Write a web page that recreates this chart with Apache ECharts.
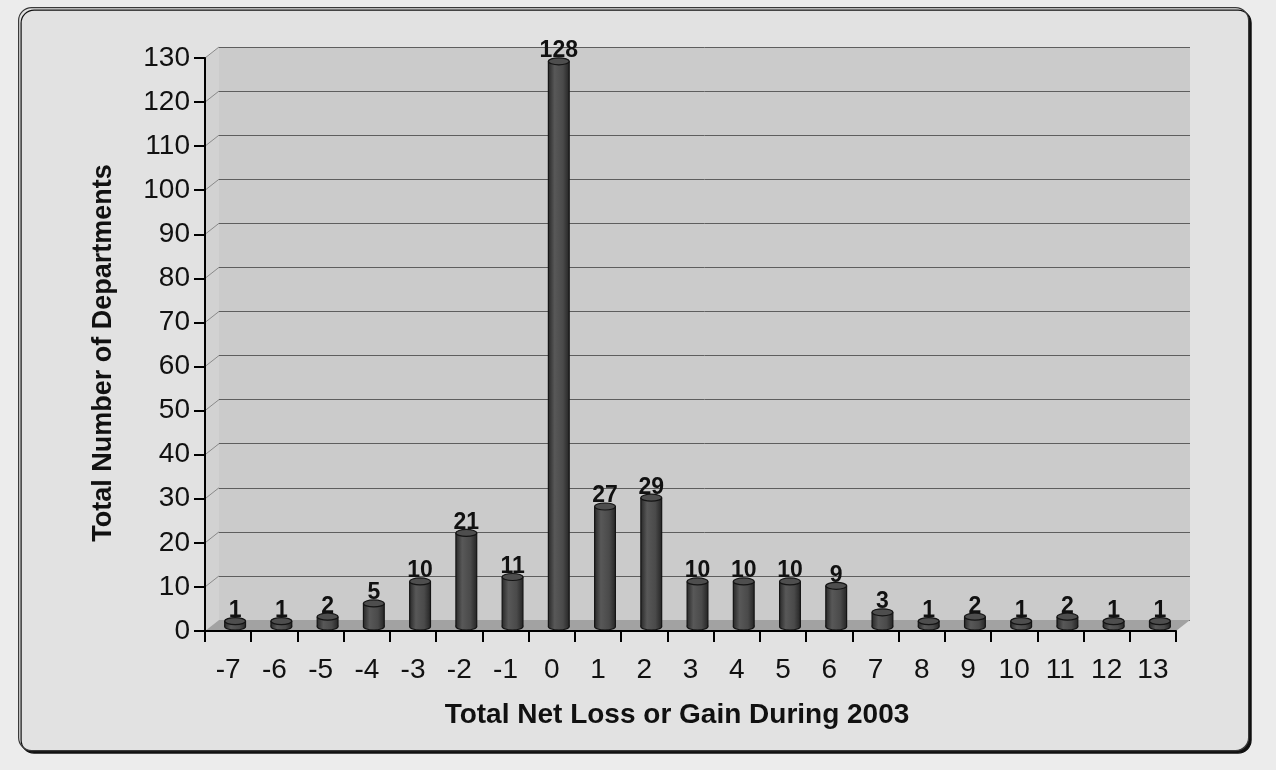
<!DOCTYPE html>
<html>
<head>
<meta charset="utf-8">
<script src="https://cdn.jsdelivr.net/npm/echarts@6/dist/echarts.min.js"></script>
<style>
  html, body { margin: 0; padding: 0; background: #ececec; }
  #chart { width: 1276px; height: 770px; }
</style>
</head>
<body>
<div id="chart"></div>
<script>
// Net change in department size during 2003, and how many departments had each change
const categories = ['-7', '-6', '-5', '-4', '-3', '-2', '-1', '0', '1', '2', '3',
                    '4', '5', '6', '7', '8', '9', '10', '11', '12', '13'];
const departments = [1, 1, 2, 5, 10, 21, 11, 128, 27, 29, 10,
                     10, 10, 9, 3, 1, 2, 1, 2, 1, 1];
const yMin = 0, yMax = 130, yStep = 10;

const xTitle = 'Total Net Loss or Gain During 2003';
const yTitle = 'Total Number of Departments';

// depth of the pseudo-3D box (back wall is shifted right/up by this much)
const DEPTH_X = 14, DEPTH_Y = 11;
const FONT = "'Liberation Sans', Arial, Helvetica, sans-serif";

const GRID = { left: 205, top: 58, width: 971, height: 573 };

// Left side wall and floor of the box, plus the gridline continuations on the side wall
function renderBox(params, api) {
  const cs = params.coordSys;
  const x = cs.x, y = cs.y, w = cs.width, h = cs.height;
  const children = [
    { type: 'polygon', shape: { points: [[x, y], [x + DEPTH_X, y - DEPTH_Y], [x + DEPTH_X, y + h - DEPTH_Y], [x, y + h]] },
      style: { fill: '#d2d2d2' } },
    { type: 'polygon', shape: { points: [[x, y + h], [x + DEPTH_X, y + h - DEPTH_Y], [x + w + DEPTH_X, y + h - DEPTH_Y], [x + w, y + h]] },
      style: { fill: '#a2a2a2' } }
  ];
  for (let v = yMin + yStep; v <= yMax; v += yStep) {
    const yy = api.coord([0, v])[1];
    children.push({ type: 'line', shape: { x1: x, y1: yy, x2: x + DEPTH_X, y2: yy - DEPTH_Y },
      style: { stroke: '#8a8a8a', lineWidth: 1 } });
  }
  return { type: 'group', children: children };
}

// One cylinder per category, standing in the middle of the box depth
function renderCylinder(params, api) {
  const i = api.value(0), v = api.value(1);
  const top = api.coord([i, v]);
  const base = api.coord([i, 0]);
  const w = api.size([1, 0])[0] * 0.45;
  const cx = top[0] + DEPTH_X / 2;
  const yt = top[1] - DEPTH_Y / 2;
  const yb = base[1] - DEPTH_Y / 2 + 1;
  const rx = w / 2, ry = 3.5;
  const bodyFill = { type: 'linear', x: 0, y: 0, x2: 1, y2: 0, colorStops: [
    { offset: 0, color: '#2a2a2a' }, { offset: 0.3, color: '#585858' },
    { offset: 0.7, color: '#4a4a4a' }, { offset: 1, color: '#262626' } ] };
  return {
    type: 'group',
    children: [
      { type: 'ellipse', shape: { cx: cx, cy: yb, rx: rx, ry: ry }, style: { fill: bodyFill, stroke: '#141414', lineWidth: 1.2 } },
      { type: 'rect', shape: { x: cx - rx, y: yt, width: w, height: Math.max(yb - yt, 0) }, style: { fill: bodyFill } },
      { type: 'line', shape: { x1: cx - rx, y1: yt, x2: cx - rx, y2: yb }, style: { stroke: '#141414', lineWidth: 1.2 } },
      { type: 'line', shape: { x1: cx + rx, y1: yt, x2: cx + rx, y2: yb }, style: { stroke: '#141414', lineWidth: 1.2 } },
      { type: 'ellipse', shape: { cx: cx, cy: yt, rx: rx, ry: ry }, style: { fill: '#4e4e4e', stroke: '#141414', lineWidth: 1.2 } },
      { type: 'text', style: { text: String(v), x: cx, y: yt + 1, align: 'center', verticalAlign: 'bottom',
        font: 'bold 23px ' + FONT, fill: '#111' } }
    ]
  };
}

const chart = echarts.init(document.getElementById('chart'), null, { renderer: 'canvas' });

chart.setOption({
  backgroundColor: '#ececec',
  animation: false,
  graphic: {
    elements: [
      { type: 'rect', z: -10, left: 18, top: 7, shape: { width: 1230, height: 743, r: 13 },
        style: { fill: '#e2e2e2', stroke: '#3a3a3a', lineWidth: 1.2,
                 shadowColor: '#111', shadowOffsetX: 2.5, shadowOffsetY: 2.5, shadowBlur: 0 } },
      { type: 'text', z: 10, x: 677, y: 715,
        style: { text: xTitle, font: 'bold 28px ' + FONT, fill: '#111', align: 'center', verticalAlign: 'middle' } },
      { type: 'text', z: 10, x: 104, y: 353, rotation: Math.PI / 2,
        style: { text: yTitle, font: 'bold 27px ' + FONT, fill: '#111', align: 'center', verticalAlign: 'middle' } }
    ]
  },
  grid: [
    Object.assign({ containLabel: false }, GRID),
    { left: GRID.left + DEPTH_X, top: GRID.top - DEPTH_Y, width: GRID.width, height: GRID.height,
      show: true, backgroundColor: '#cbcbcb', borderWidth: 0, z: 0 }
  ],
  xAxis: [
    { type: 'category', gridIndex: 0, data: categories, boundaryGap: true,
      axisLine: { lineStyle: { color: '#000', width: 2 } },
      axisTick: { show: true, length: 11, lineStyle: { color: '#000', width: 2 } },
      axisLabel: { color: '#111', fontSize: 28, fontFamily: FONT, margin: 25, interval: 0 },
      z: 5 },
    { type: 'category', gridIndex: 1, data: categories, show: false }
  ],
  yAxis: [
    { type: 'value', gridIndex: 0, min: yMin, max: yMax, interval: yStep,
      axisLine: { show: true, lineStyle: { color: '#000', width: 2 } },
      axisTick: { show: true, length: 11, lineStyle: { color: '#000', width: 2 } },
      axisLabel: { color: '#111', fontSize: 28, fontFamily: FONT, margin: 15 },
      splitLine: { show: false }, z: 5 },
    { type: 'value', gridIndex: 1, min: yMin, max: yMax, interval: yStep,
      axisLine: { show: false }, axisTick: { show: false }, axisLabel: { show: false },
      splitLine: { show: true, lineStyle: { color: '#5e5e5e', width: 1 } } }
  ],
  series: [
    { type: 'custom', name: 'box', xAxisIndex: 0, yAxisIndex: 0, silent: true, clip: false, z: 1,
      renderItem: renderBox, data: [[0, 0]] },
    { type: 'custom', name: 'Departments', xAxisIndex: 0, yAxisIndex: 0, silent: true, clip: false, z: 3,
      renderItem: renderCylinder,
      data: departments.map(function (v, i) { return [i, v]; }) }
  ]
});
</script>
</body>
</html>
